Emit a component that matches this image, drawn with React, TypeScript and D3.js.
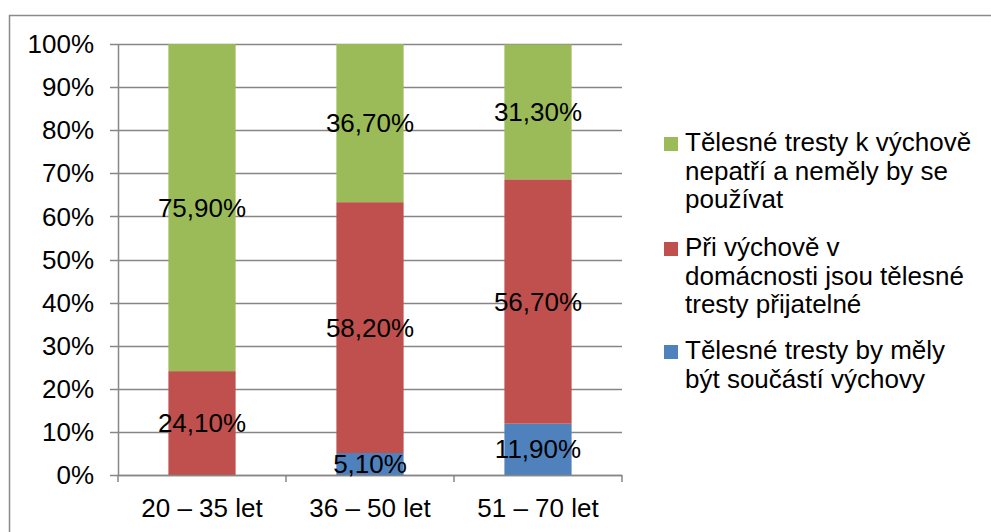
import React from "react";
import * as d3 from "d3";

const categories = ["20 – 35 let", "36 – 50 let", "51 – 70 let"];
const seriesNames = [
  "Tělesné tresty by měly být součástí výchovy",
  "Při výchově v domácnosti jsou tělesné tresty přijatelné",
  "Tělesné tresty k výchově nepatří a neměly by se používat",
];
const blueValues = [0, 5.1, 11.9];
const redValues = [24.1, 58.2, 56.7];
const greenValues = [75.9, 36.7, 31.3];
const yTicks = [0, 10, 20, 30, 40, 50, 60, 70, 80, 90, 100];
const legendLines = [
  ["Tělesné tresty k výchově", "nepatří a neměly by se", "používat"],
  ["Při výchově v", "domácnosti jsou tělesné", "tresty přijatelné"],
  ["Tělesné tresty by měly", "být součástí výchovy"],
];

const colors = ["#4F81BD", "#C0504D", "#9BBB59"];
const legendColors = ["#9BBB59", "#C0504D", "#4F81BD"];
const FONT = "'Liberation Sans', Arial, sans-serif";
const FS = 26;
const GRID = "#868686";

export default function App() {
  const W = 991;
  const H = 532;
  const x0 = 118, x1 = 622, yTop = 44, yBot = 475;

  const x = d3.scaleBand<string>().domain(categories).range([x0, x1]).paddingInner(0.6).paddingOuter(0.3);
  const y = d3.scaleLinear().domain([0, 100]).range([yBot, yTop]);

  const table = categories.map((c, i) => ({
    cat: c,
    s0: blueValues[i],
    s1: redValues[i],
    s2: greenValues[i],
  }));
  const stack = d3.stack<any>().keys(["s0", "s1", "s2"]);
  const layers = stack(table);

  const step = x.step();
  const boundaries = [0, 1, 2, 3].map((i) => x0 + i * ((x1 - x0) / 3));

  const fmt = (v: number) => v.toFixed(2).replace(".", ",") + "%";

  const legendStarts = [151, 256, 359];
  const lineH = 28.7;

  return (
    <svg width={W} height={H} style={{ position: "absolute", left: 0, top: 0, background: "#fff" }} fontFamily={FONT}>
      <rect x={9.5} y={15.5} width={1100} height={700} fill="none" stroke="#8a8a8a" strokeWidth={1.5} />
      {yTicks.map((t) => (
        <g key={t}>
          <line x1={110} x2={x1} y1={Math.round(y(t)) + 0.5} y2={Math.round(y(t)) + 0.5} stroke={GRID} strokeWidth={1.5} />
          <text x={94} y={y(t)} dy="0.35em" textAnchor="end" fontSize={FS} fill="#000">
            {t}%
          </text>
        </g>
      ))}
      {layers.map((layer, li) =>
        layer.map((d, i) => {
          const v = d[1] - d[0];
          if (v <= 0) return null;
          return (
            <rect
              key={li + "-" + i}
              x={x(categories[i])}
              width={x.bandwidth()}
              y={y(d[1])}
              height={y(d[0]) - y(d[1])}
              fill={colors[li]}
            />
          );
        })
      )}
      <line x1={x0 + 0.5} x2={x0 + 0.5} y1={yTop} y2={yBot} stroke={GRID} strokeWidth={1.5} />
      <line x1={x0} x2={x1} y1={yBot + 0.5} y2={yBot + 0.5} stroke={GRID} strokeWidth={1.5} />
      {boundaries.map((b, i) => (
        <line key={i} x1={b} x2={b} y1={yBot} y2={yBot + 7} stroke={GRID} strokeWidth={1.5} />
      ))}
      {layers.map((layer, li) =>
        layer.map((d, i) => {
          const v = d[1] - d[0];
          if (v <= 0) return null;
          return (
            <text
              key={"l" + li + "-" + i}
              x={(x(categories[i]) as number) + x.bandwidth() / 2}
              y={y((d[0] + d[1]) / 2)}
              dy="0.35em"
              textAnchor="middle"
              fontSize={FS}
              fill="#000"
            >
              {fmt(v)}
            </text>
          );
        })
      )}
      {categories.map((c) => (
        <text key={c} x={(x(c) as number) + x.bandwidth() / 2} y={517} textAnchor="middle" fontSize={FS} fill="#000">
          {c}
        </text>
      ))}
      {legendLines.map((lines, i) => (
        <g key={i}>
          <rect x={664} y={legendStarts[i] - 14} width={14} height={14} fill={legendColors[i]} />
          {lines.map((ln, j) => (
            <text key={j} x={685} y={legendStarts[i] + j * lineH} fontSize={FS} fill="#000">
              {ln}
            </text>
          ))}
        </g>
      ))}
    </svg>
  );
}
